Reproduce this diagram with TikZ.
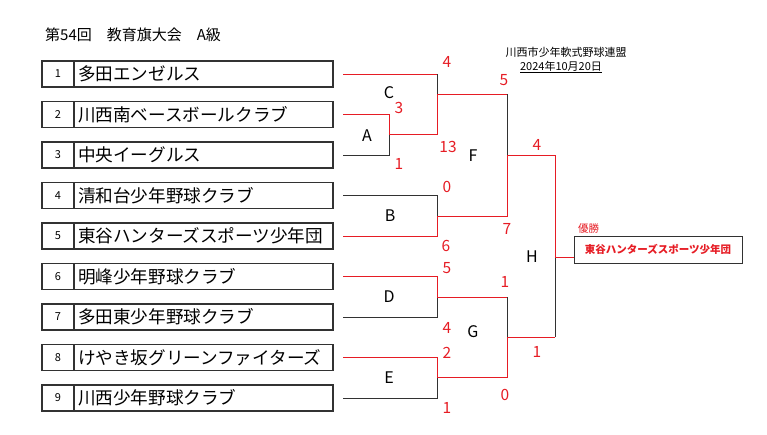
\documentclass[tikz,border=0pt]{standalone}
\usepackage{fontspec}
\setmainfont{Noto Sans CJK JP}
\usetikzlibrary{positioning,calc}
\definecolor{tred}{RGB}{230,28,36}
\definecolor{tdark}{RGB}{50,50,50}

\begin{document}
\begin{tikzpicture}[
    x=1pt, y=-1pt,
    numbox/.style={rectangle, draw=tdark, line width=1.5pt, outer sep=0pt, minimum width=32pt, minimum height=26pt, inner sep=0pt, font=\fontsize{11}{13}\selectfont},
    namebox/.style={rectangle, draw=tdark, line width=1.5pt, outer sep=0pt, minimum height=26pt, text width=251pt, inner xsep=4pt, inner ysep=0pt, align=left, font=\fontsize{17.6}{20}\selectfont},
    win/.style={draw=tred, line width=1pt},
    lose/.style={draw=tdark, line width=1pt},
    score/.style={text=tred, inner sep=0pt, font=\fontsize{15.5}{18}\selectfont},
    round/.style={inner sep=0pt, font=\fontsize{16}{18}\selectfont},
    champ/.style={rectangle, draw=tdark, line width=1pt, minimum width=168pt, minimum height=27pt, text=tred, font=\fontsize{10.5}{12}\selectfont\bfseries}
]
\useasboundingbox (0,0) rectangle (767,434);

% Title and header
\node[anchor=west, inner sep=0pt, font=\fontsize{15}{18}\selectfont] (title) at (45,35) {第54回　教育旗大会　A級};
\node[inner sep=0pt, font=\fontsize{11}{13}\selectfont] (league) at (566,52) {川西市少年軟式野球連盟};
\node[inner sep=0pt, font=\fontsize{11}{13}\selectfont] (date) at (561,67) {\underline{2024年10月20日}};

% Teams
\node[numbox] (n1) at (58,74) {1};
\node[namebox, right=0pt of n1] (t1) {多田エンゼルス};
\node[numbox, below=14.5pt of n1] (n2) {2};
\node[namebox, right=0pt of n2] (t2) {川西南ベースボールクラブ};
\node[numbox, below=14.5pt of n2] (n3) {3};
\node[namebox, right=0pt of n3] (t3) {中央イーグルス};
\node[numbox, below=14.5pt of n3] (n4) {4};
\node[namebox, right=0pt of n4] (t4) {清和台少年野球クラブ};
\node[numbox, below=14.5pt of n4] (n5) {5};
\node[namebox, right=0pt of n5] (t5) {東谷ハンターズスポーツ少年団};
\node[numbox, below=14.5pt of n5] (n6) {6};
\node[namebox, right=0pt of n6] (t6) {明峰少年野球クラブ};
\node[numbox, below=14.5pt of n6] (n7) {7};
\node[namebox, right=0pt of n7] (t7) {多田東少年野球クラブ};
\node[numbox, below=14.5pt of n7] (n8) {8};
\node[namebox, right=0pt of n8] (t8) {けやき坂グリーンファイターズ};
\node[numbox, below=14.5pt of n8] (n9) {9};
\node[namebox, right=0pt of n9] (t9) {川西少年野球クラブ};

% Bracket joints
\coordinate (mA) at (389,134);
\coordinate (mC) at (437,94);
\coordinate (mB) at (437,216);
\coordinate (mD) at (437,297);
\coordinate (mE) at (437,377);
\coordinate (mF) at (507,155);
\coordinate (mG) at (507,337);
\coordinate (mH) at (555,257);

% Winner
\node[champ] (winner) at (658,249.5) {東谷ハンターズスポーツ少年団};
\node[text=tred, inner sep=0pt, font=\fontsize{10.5}{12}\selectfont] (wlabel) at (588.5,229) {優勝};

% First round lines
\draw[win] ([xshift=10pt]t1.east) -- (mC |- t1.east);
\draw[lose] (mC |- t1.east) -- (mC);
\draw[win] ([xshift=10pt]t2.east) -| (mA);
\draw[lose] ([xshift=10pt]t3.east) -| (mA);
\draw[win] (mA) -| (mC);
\draw[lose] ([xshift=10pt]t4.east) -| (mB);
\draw[win] ([xshift=10pt]t5.east) -| (mB);
\draw[win] ([xshift=10pt]t6.east) -| (mD);
\draw[lose] ([xshift=10pt]t7.east) -| (mD);
\draw[win] ([xshift=10pt]t8.east) -| (mE);
\draw[lose] ([xshift=10pt]t9.east) -| (mE);

% Later rounds
\draw[win] (mC) -- (mC -| mF);
\draw[lose] (mC -| mF) -- (mF);
\draw[win] (mB) -| (mF);
\draw[win] (mD) -- (mD -| mG);
\draw[lose] (mD -| mG) -- (mG);
\draw[win] (mE) -| (mG);
\draw[win] (mF) -| (mH);
\draw[win] (mG) -- (mG -| mH);
\draw[lose] (mG -| mH) -- (mH);
\draw[win] (mH) -- (mH -| winner.west);

% Match labels
\node[round] (lA) at (367,136) {A};
\node[round] (lB) at (390,216) {B};
\node[round] (lC) at (389,93) {C};
\node[round] (lD) at (389,297) {D};
\node[round] (lE) at (389,378) {E};
\node[round] (lF) at (473,156) {F};
\node[round] (lG) at (473,332) {G};
\node[round] (lH) at (532,257) {H};

% Scores
\node[score] (s1) at (447,62) {4};
\node[score] (s2) at (399,108) {3};
\node[score] (s3) at (448,147) {13};
\node[score] (s4) at (399,164) {1};
\node[score] (s5) at (504,80) {5};
\node[score] (s6) at (537,145) {4};
\node[score] (s7) at (447,187) {0};
\node[score] (s8) at (507,229) {7};
\node[score] (s9) at (446,246) {6};
\node[score] (s10) at (447,268) {5};
\node[score] (s11) at (505,282) {1};
\node[score] (s12) at (447,328) {4};
\node[score] (s13) at (447,353) {2};
\node[score] (s14) at (537,352) {1};
\node[score] (s15) at (505,395) {0};
\node[score] (s16) at (447,408) {1};

\end{tikzpicture}
\end{document}
